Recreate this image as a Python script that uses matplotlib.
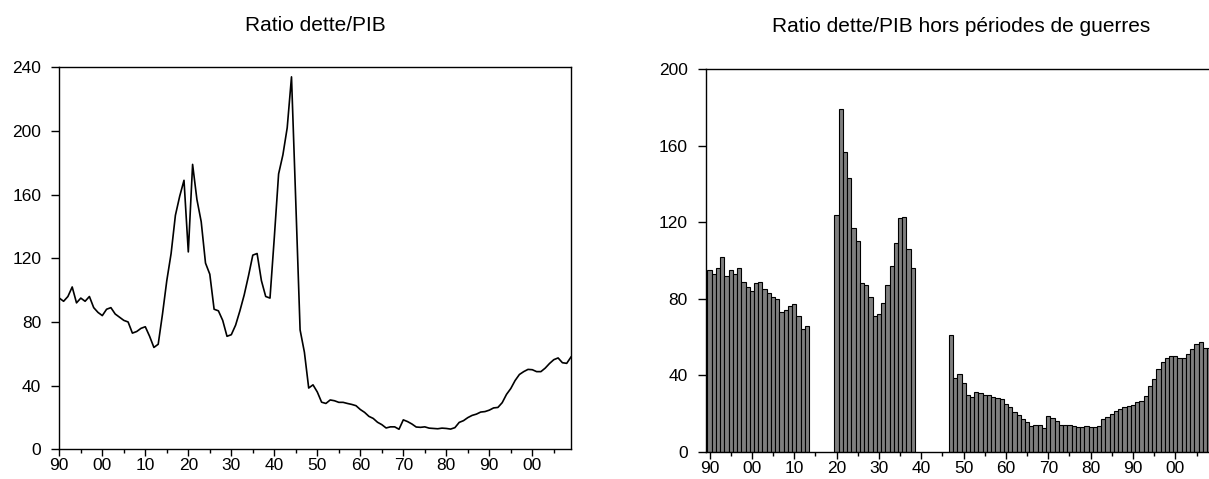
import numpy as np
import matplotlib
matplotlib.use("Agg")
import matplotlib.pyplot as plt
from matplotlib.ticker import MultipleLocator, FuncFormatter

plt.rcParams['font.family'] = ['Liberation Sans', 'DejaVu Sans']

# ---- data: debt / GDP ratio (%) ----
years_a = list(range(1890, 1914))
ratio_a = [95, 93, 96, 102, 92, 95, 93, 96, 89, 86, 84, 88, 89, 85, 83, 81,
           80, 73, 74, 76, 77, 71, 64, 66]
years_war1 = list(range(1914, 1920))
ratio_war1 = [85, 106, 123, 147, 159, 169]
years_b = list(range(1920, 1939))
ratio_b = [124, 179, 157, 143, 117, 110, 88, 87, 81, 71, 72, 78, 87, 97, 109,
           122, 123, 106, 96]
years_war2 = list(range(1939, 1947))
ratio_war2 = [95, 133, 173, 185, 202, 234, 155, 75]
years_c = list(range(1947, 2010))
ratio_c = [61, 38.5, 40.5, 36, 29.6, 28.8, 31, 30.5, 29.5, 29.5, 28.8, 28.2,
           27.4, 25, 23.2, 20.7, 19.4, 17, 15.5, 13.4, 14.1, 14.1, 12.6, 18.5,
           17.4, 15.9, 14, 13.8, 14.1, 13.3, 13.1, 12.9, 13.3, 13.1, 12.7,
           13.6, 16.9, 18, 19.9, 21.3, 22.1, 23.4, 23.7, 24.6, 26, 26.3, 29.3,
           34.5, 38.2, 43.2, 47, 48.8, 50.2, 50, 48.8, 48.8, 51, 53.9, 56.3,
           57.4, 54.4, 54, 58]

title_left = "Ratio dette/PIB"
title_right = "Ratio dette/PIB hors périodes de guerres"
yticks_left = [0, 40, 80, 120, 160, 200, 240]
yticks_right = [0, 40, 80, 120, 160, 200]

all_years = years_a + years_war1 + years_b + years_war2 + years_c
all_ratio = ratio_a + ratio_war1 + ratio_b + ratio_war2 + ratio_c
peace_years = years_a + years_b + years_c
peace_ratio = ratio_a + ratio_b + ratio_c

W, H = 1209, 479
fig = plt.figure(figsize=(W / 100, H / 100), dpi=100)

def frac(x0, x1, y_top, y_bot):
    return [x0 / W, (H - y_bot) / H, (x1 - x0) / W, (y_bot - y_top) / H]

fmt = FuncFormatter(lambda v, p: "%02d" % (int(round(v)) % 100))
fs = 12.5
fs_title = 15

# ---- left panel: line ----
ax1 = fig.add_axes(frac(59.3, 571, 67.3, 449.3))
ax1.plot(all_years, all_ratio, color="black", lw=1.2)
ax1.set_xlim(1890, 2009)
ax1.set_ylim(0, 240)
ax1.set_yticks(yticks_left)
ax1.xaxis.set_major_locator(MultipleLocator(10))
ax1.xaxis.set_minor_locator(MultipleLocator(5))
ax1.xaxis.set_major_formatter(fmt)
ax1.set_title(title_left, fontsize=fs_title, pad=26)

# ---- right panel: bars ----
ax2 = fig.add_axes(frac(706, 1217, 69.3, 451.7))
ax2.bar(peace_years, peace_ratio, width=1.0, color="#7f7f7f",
        edgecolor="black", linewidth=0.8)
ax2.set_xlim(1889.17, 2009.83)
ax2.set_ylim(0, 200)
ax2.set_yticks(yticks_right)
ax2.xaxis.set_major_locator(MultipleLocator(10))
ax2.xaxis.set_minor_locator(MultipleLocator(5))
ax2.xaxis.set_major_formatter(fmt)
ax2.set_title(title_right, fontsize=fs_title, pad=27)

for ax in (ax1, ax2):
    for s in ax.spines.values():
        s.set_linewidth(1.0)
    ax.tick_params(axis="x", which="major", direction="out", length=5,
                   width=1.0, pad=1.5, labelsize=fs)
    ax.tick_params(axis="x", which="minor", direction="out", length=3,
                   width=1.0)
    ax.tick_params(axis="y", which="major", direction="out", length=6,
                   width=1.0, pad=7, labelsize=fs)
    ax.tick_params(top=False, right=False)

fig.savefig("out.png", dpi=100)
